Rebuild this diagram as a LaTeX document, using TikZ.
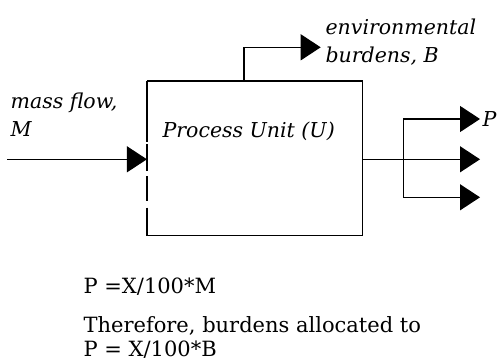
\documentclass[tikz,border=0pt]{standalone}
\usepackage{fontspec}
\setmainfont{DejaVu Serif}
\usetikzlibrary{arrows.meta}
\begin{document}
\begin{tikzpicture}[x=1pt,y=-1pt,
  line width=1.2pt,
  flow/.style={-{Triangle[length=20pt,width=26pt]}},
  lbl/.style={anchor=base west,inner sep=0pt,font=\fontsize{20.5}{24}\selectfont\itshape},
  txt/.style={anchor=base west,inner sep=0pt,font=\fontsize{21}{24}\selectfont}]
\useasboundingbox (0,0) rectangle (497,361);
% process unit box (left edge drawn separately, broken)
\node (unit) [minimum width=214pt,minimum height=153.5pt,inner sep=0pt] at (254.5,158.25) {};
\draw (unit.north west) -- (unit.north east) -- (unit.south east) -- (unit.south west);
\draw[dash pattern=on 61.2pt off 2.3pt on 26.7pt off 5pt on 25pt off 6.6pt on 26.7pt off 0pt]
  (unit.north west) -- (unit.south west);
\node[lbl] (unitlbl) at (162,137) {Process Unit (U)};
% mass flow input
\coordinate (src) at (7,159.3);
\draw[flow] (src) -- (src -| unit.west);
\node[lbl] (mflow) at (10,108) {mass flow,};
\node[lbl] (mlbl) at (10,136.7) {M};
% environmental burdens
\coordinate (bup) at (244,47.3);
\coordinate (btip) at (320.7,47.3);
\draw[flow] (bup |- unit.north) -- (bup) -- (btip);
\node[lbl] (env) at (325,35) {environmental};
\node[lbl] (bur) at (325,63) {burdens, B};
% product outputs
\coordinate (split) at (403.3,159.3);
\coordinate (out1) at (480,119);
\coordinate (out2) at (480,159.3);
\coordinate (out3) at (480,197.3);
\draw (split -| unit.east) -- (split);
\draw[flow] (split) -- (out2);
\draw[flow] (split) -- (split |- out1) -- (out1);
\draw[flow] (split) -- (split |- out3) -- (out3);
\node[lbl] (plbl) at (482,126.7) {P};
% allocation text
\node[txt] (eq1) at (83,293) {P =X/100*M};
\node[txt] (eq2) at (83,332) {Therefore, burdens allocated to};
\node[txt] (eq3) at (83,356) {P = X/100*B};
\end{tikzpicture}
\end{document}
